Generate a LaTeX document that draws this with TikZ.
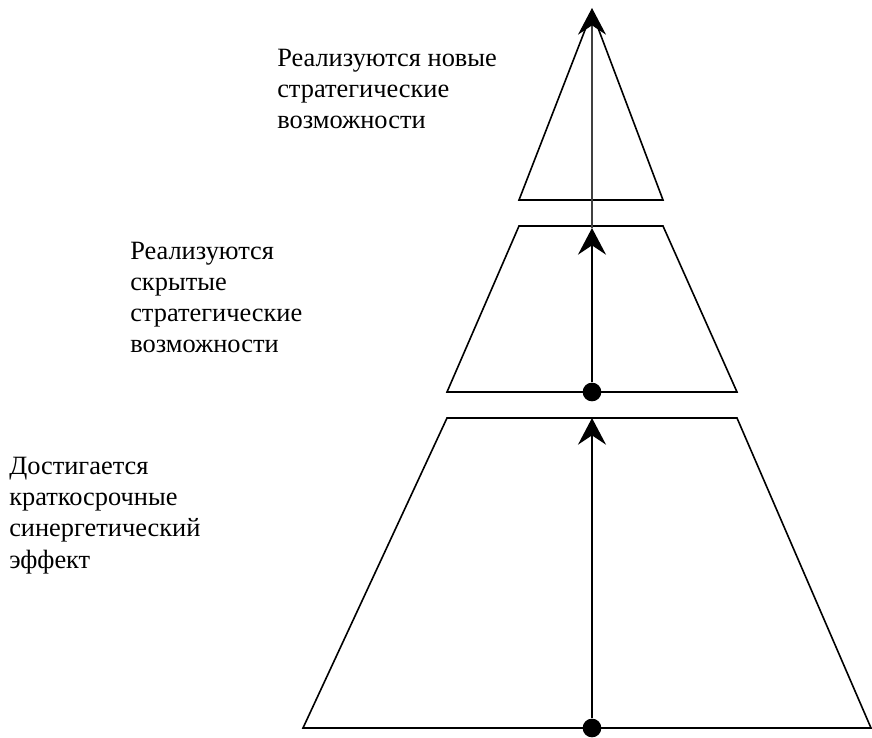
\documentclass[tikz,border=0pt]{standalone}
\usepackage{fontspec}
\setmainfont{Liberation Serif}
\usetikzlibrary{arrows.meta}

\begin{document}
\begin{tikzpicture}[x=0.75pt,y=-0.75pt,
    level/.style={draw,line width=1.2pt,line join=miter},
    flow/.style={-{Stealth[length=20pt,width=21pt,inset=7pt]},line width=1.5pt},
    thinflow/.style={-{Stealth[length=20pt,width=21pt,inset=7pt,black]},line width=0.8pt,black!75},
    dot/.style={circle,fill,inner sep=0pt,minimum size=14pt},
    caption/.style={anchor=base west,align=left,inner sep=0pt,font=\fontsize{19.8}{23.3}\selectfont}]
    \useasboundingbox (0,0) rectangle (872,738);

    % levels
    \draw[level] (303,728) -- (447,418) -- (737,418) -- (871,728) -- cycle;
    \draw[level] (447,392) -- (519,226) -- (663,226) -- (737,392) -- cycle;
    \draw[level] (519,200) -- (592,12) -- (663,200) -- cycle;

    \node[dot] (d1) at (592,728) {};
    \node[dot] (d2) at (592,392) {};
    \coordinate (t1) at (592,418);
    \coordinate (t2) at (592,228);
    \coordinate (t3) at (592,8);

    \draw[flow] (d1) -- (t1);
    \draw[flow] (d2) -- (t2);
    \draw[thinflow] (t2) -- (t3);

    % captions (anchored at the last line)
    \node[caption] (c3) at (277,129) {Реализуются новые\\стратегические\\возможности};
    \node[caption] (c2) at (130,353) {Реализуются\\скрытые\\стратегические\\возможности};
    \node[caption] (c1) at (9,568) {Достигается\\краткосрочные\\синергетический\\эффект};
\end{tikzpicture}
\end{document}
